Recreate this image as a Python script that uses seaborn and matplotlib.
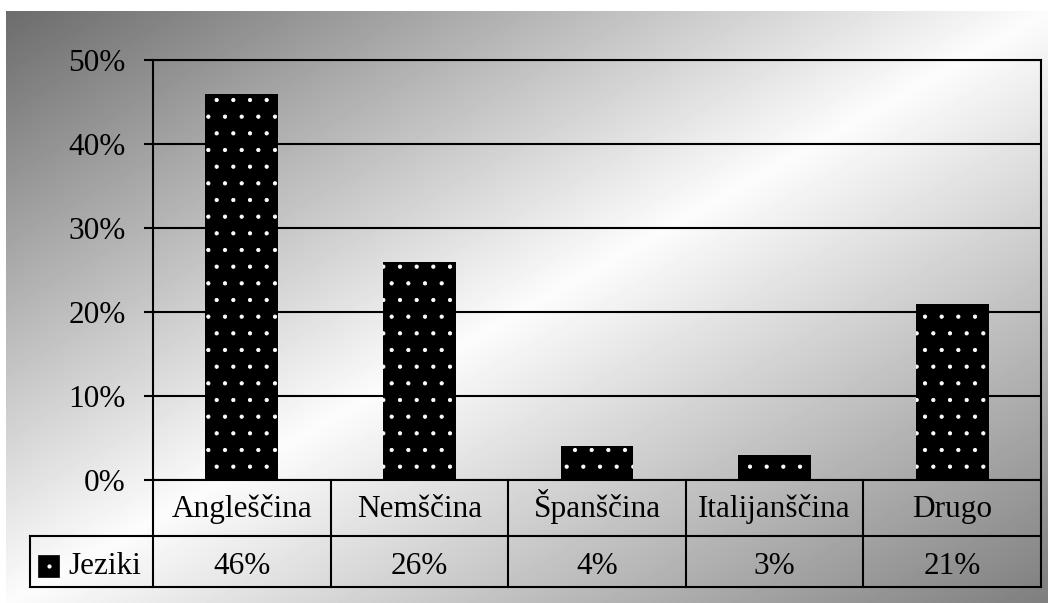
import numpy as np
import pandas as pd
import matplotlib
matplotlib.use('Agg')
import matplotlib.pyplot as plt
import matplotlib.patches as patches
import matplotlib.transforms as mtransforms
import seaborn as sns

categories = ['Angleščina', 'Nemščina', 'Španščina', 'Italijanščina', 'Drugo']
shares = [46, 26, 4, 3, 21]
series_name = 'Jeziki'
yticks = [0, 10, 20, 30, 40, 50]

W, H, DPI = 1048, 603, 100

sns.set_theme(style='white')
plt.rcParams['font.family'] = ['Liberation Serif', 'DejaVu Serif']
plt.rcParams['hatch.linewidth'] = 0.6

fig = plt.figure(figsize=(W / DPI, H / DPI), dpi=DPI)
fig.patch.set_facecolor('white')

# diagonal grey -> white -> grey backdrop (white strip on top/left)
bg = fig.add_axes([0, 0, 1, 1], zorder=-5)
xx, yy = np.meshgrid(np.arange(W), np.arange(H))
t = ((xx - 6) / (W - 6) + (yy - 11) / (H - 11)) / 2
shade = np.where(t < 0.5, 108 + (252 - 108) * t * 2, 252 - (252 - 126) * (t - 0.5) * 2) / 255
shade[(xx < 6) | (yy < 11)] = 1
bg.imshow(shade, cmap='gray', vmin=0, vmax=1, aspect='auto', interpolation='bilinear')
bg.axis('off')

# plot area in pixels
left, right, top, bottom = 153, 1041, 60, 480
ax = fig.add_axes([left / W, 1 - bottom / H, (right - left) / W, (bottom - top) / H])
ax.set_facecolor('none')

df = pd.DataFrame({'jezik': categories, 'delez': shares})
sns.barplot(data=df, x='jezik', y='delez', color='black', width=0.41, saturation=1,
            errorbar=None, ax=ax, hatch='.', edgecolor='white', linewidth=0, zorder=3)

ax.set_ylim(0, 50)
ax.set_xlim(-0.5, len(categories) - 0.5)
ax.set_yticks(yticks, [f'{v}%' for v in yticks])
ax.set_xlabel('')
ax.set_ylabel('')
ax.yaxis.grid(True, color='black', lw=1.5)
ax.set_axisbelow(True)
ax.tick_params(axis='y', left=True, length=6.5, width=1.5, color='black', pad=13,
               labelsize=22.5, labelcolor='black', direction='out')
ax.tick_params(axis='x', bottom=False, labelbottom=False)
for sp in ax.spines.values():
    sp.set_visible(True)
    sp.set_color('black')
    sp.set_linewidth(1.5)

# data table under the plot
r1 = -56 / (bottom - top)
r2 = -107 / (bottom - top)
xl = (30 - left) / (right - left)
line_kw = dict(color='black', lw=1.5, clip_on=False, solid_capstyle='projecting')
ax.plot([xl, 1], [r1, r1], transform=ax.transAxes, **line_kw)
ax.plot([xl, 1], [r2, r2], transform=ax.transAxes, **line_kw)
ax.plot([xl, xl], [r1, r2], transform=ax.transAxes, **line_kw)
blend = mtransforms.blended_transform_factory(ax.transData, ax.transAxes)
for k in range(len(categories) + 1):
    ax.plot([k - 0.5, k - 0.5], [0, r2], transform=blend, **line_kw)

base1 = -37 / (bottom - top)
base2 = -94 / (bottom - top)
for i, (cat, v) in enumerate(zip(categories, shares)):
    ax.text(i, base1, cat, transform=blend, ha='center', va='baseline', fontsize=22.5, color='black')
    ax.text(i, base2, f'{v}%', transform=blend, ha='center', va='baseline', fontsize=22.5, color='black')

# legend key + series name
kx = (38 - left) / (right - left)
ky = (bottom - 577) / (bottom - top)
key = patches.Rectangle((kx, ky), 21 / (right - left), 22 / (bottom - top), transform=ax.transAxes,
                        facecolor='black', edgecolor='black', lw=0.5, clip_on=False)
ax.add_patch(key)
ax.plot([kx + 10.5 / (right - left)], [ky + 11 / (bottom - top)], marker='o', ms=2, color='white',
        transform=ax.transAxes, clip_on=False)
ax.text((68 - left) / (right - left), base2, series_name, transform=ax.transAxes, ha='left',
        va='baseline', fontsize=22.5, color='black')

fig.savefig('out.png', dpi=DPI)
